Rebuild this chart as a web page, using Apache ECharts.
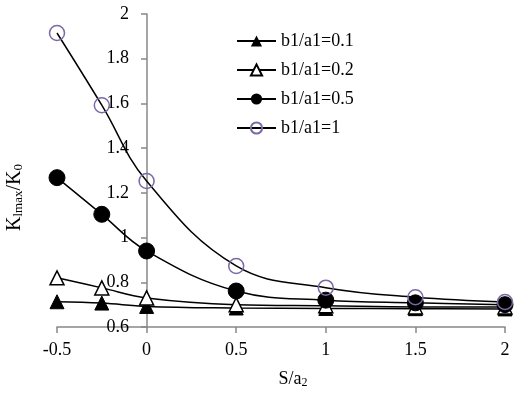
<!DOCTYPE html>
<html>
  <head>
    <meta charset="utf-8" />
    <title>ECharts</title>
    <script src="https://cdn.jsdelivr.net/npm/echarts@6/dist/echarts.min.js"></script>
  </head>
  <body style="margin: 0">
    <div id="main" style="width: 524px; height: 396px"></div>
    <script type="text/javascript">
      var myChart = echarts.init(document.getElementById("main"));

      // S/a2 positions
      var xs = [-0.5, -0.25, 0, 0.5, 1, 1.5, 2];
      // Klmax/K0 for each b1/a1
      var k01 = [0.713, 0.707, 0.692, 0.685, 0.683, 0.682, 0.681];
      var k02 = [0.82, 0.775, 0.73, 0.7, 0.695, 0.69, 0.69];
      var k05 = [1.268, 1.104, 0.94, 0.761, 0.72, 0.708, 0.7];
      var k1 = [1.915, 1.592, 1.253, 0.873, 0.776, 0.733, 0.712];
      var names = ["b1/a1=0.1", "b1/a1=0.2", "b1/a1=0.5", "b1/a1=1"];

      function pairs(ys) {
        var out = [];
        for (var i = 0; i < xs.length; i++) {
          out.push([xs[i], ys[i]]);
        }
        return out;
      }

      var font = "Liberation Serif";
      var axisGray = "#888888";

      var option = {
        animation: false,
        textStyle: { fontFamily: font },
        grid: { left: 57, right: 19, top: 14, bottom: 69, outerBoundsMode: "none" },
        legend: {
          orient: "vertical",
          left: 236,
          top: 32,
          padding: 0,
          itemWidth: 39,
          itemHeight: 14,
          itemGap: 11,
          textStyle: { fontFamily: font, fontSize: 18, color: "#000" },
          data: names,
        },
        xAxis: {
          type: "value",
          min: -0.5,
          max: 2,
          interval: 0.5,
          name: "S/a{sub|2}",
          nameLocation: "middle",
          nameGap: 42,
          nameTextStyle: {
            fontFamily: font,
            fontSize: 18,
            color: "#000",
            padding: [0, 0, 0, 24],
            rich: { sub: { fontSize: 12, verticalAlign: "bottom", padding: [8, 0, 0, 0] } },
          },
          splitLine: { show: false },
          axisLine: { onZero: false, lineStyle: { color: axisGray, width: 1.5 } },
          axisTick: { length: 6, lineStyle: { color: axisGray, width: 1.5 } },
          axisLabel: { fontFamily: font, fontSize: 18, color: "#000", margin: 14 },
        },
        yAxis: {
          type: "value",
          min: 0.6,
          max: 2,
          interval: 0.2,
          // axis sits at S/a2 = 0
          offset: -90,
          name: "K{sub|lmax}/K{sub|0}",
          nameLocation: "middle",
          nameGap: 122,
          nameTextStyle: {
            fontFamily: font,
            fontSize: 20,
            color: "#000",
            padding: [0, 54, 0, 0],
            rich: { sub: { fontSize: 13, verticalAlign: "bottom", padding: [8, 0, 0, 0] } },
          },
          splitLine: { show: false },
          axisLine: { onZero: false, lineStyle: { color: axisGray, width: 1.5 } },
          axisTick: { length: 6, lineStyle: { color: axisGray, width: 1.5 } },
          axisLabel: {
            fontFamily: font,
            fontSize: 18,
            color: "#000",
            margin: 18,
          },
        },
        series: [
          {
            name: names[0],
            type: "line",
            smooth: 0.4,
            symbol: "triangle",
            symbolSize: 14,
            lineStyle: { color: "#000", width: 1.5 },
            itemStyle: { color: "#000", borderColor: "#000" },
            data: pairs(k01),
          },
          {
            name: names[1],
            type: "line",
            smooth: 0.4,
            symbol: "triangle",
            symbolSize: 14,
            lineStyle: { color: "#000", width: 1.5 },
            itemStyle: { color: "#fff", borderColor: "#000", borderWidth: 1.5 },
            data: pairs(k02),
          },
          {
            name: names[2],
            type: "line",
            smooth: 0.4,
            symbol: "circle",
            symbolSize: 16,
            lineStyle: { color: "#000", width: 1.5 },
            itemStyle: { color: "#000", borderColor: "#000" },
            data: pairs(k05),
          },
          {
            name: names[3],
            type: "line",
            smooth: 0.4,
            symbol: "circle",
            symbolSize: 15,
            lineStyle: { color: "#000", width: 1.5 },
            itemStyle: {
              color: "rgba(0,0,0,0)",
              borderColor: "#7B68A6",
              borderWidth: 1.5,
            },
            data: pairs(k1),
          },
        ],
      };
      myChart.setOption(option);
    </script>
  </body>
</html>
